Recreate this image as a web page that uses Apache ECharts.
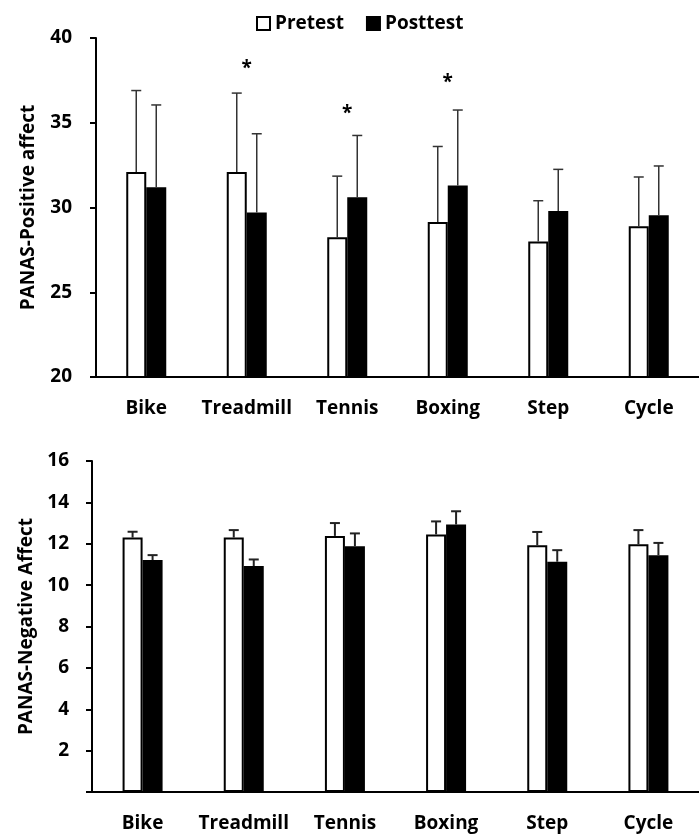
<!DOCTYPE html>
<html>
<head>
<meta charset="utf-8">
<script src="https://cdn.jsdelivr.net/npm/echarts@6/dist/echarts.min.js"></script>
<style>
html,body{margin:0;padding:0;background:#fff;}
#c{width:699px;height:840px;}
</style>
</head>
<body>
<div id="c"></div>
<script>
const categories = ['Bike','Treadmill','Tennis','Boxing','Step','Cycle'];

// PANAS positive affect (top panel)
const posPre = [32.1, 32.1, 28.25, 29.15, 28.0, 28.9];
const posPreSD = [4.8, 4.65, 3.6, 4.45, 2.4, 2.9];
const posPost = [31.2, 29.7, 30.6, 31.3, 29.8, 29.55];
const posPostSD = [4.85, 4.65, 3.65, 4.45, 2.45, 2.9];
const posStars = [null, 38.2, 35.55, 37.35, null, null];

// PANAS negative affect (bottom panel)
const negPre = [12.3, 12.3, 12.38, 12.45, 11.93, 11.98];
const negPreSD = [0.28, 0.36, 0.62, 0.63, 0.64, 0.68];
const negPost = [11.21, 10.92, 11.88, 12.93, 11.13, 11.45];
const negPostSD = [0.24, 0.32, 0.62, 0.64, 0.56, 0.59];

const posTicks = [20, 25, 30, 35, 40];
const negTicks = [0, 2, 4, 6, 8, 10, 12, 14, 16];

const FONT = '"Open Sans", sans-serif';
const BAR_W = 20;

function errData(means, sds){ return means.map((m,i)=>[i,m,sds[i]]); }
function errRender(offset, lw, color){
  return function(params, api){
    const i = api.value(0), m = api.value(1), e = api.value(2);
    const p0 = api.coord([i, m]);
    const p1 = api.coord([i, m + e]);
    const x = p0[0] + offset;
    return {type:'group', children:[
      {type:'line', shape:{x1:x,y1:p0[1],x2:x,y2:p1[1]}, style:{stroke:color,lineWidth:lw}},
      {type:'line', shape:{x1:x-5,y1:p1[1],x2:x+5,y2:p1[1]}, style:{stroke:color,lineWidth:lw}}
    ]};
  };
}

const axisText = {color:'#000', fontFamily:FONT, fontWeight:'bold', fontSize:19};

const chart = echarts.init(document.getElementById('c'));
chart.setOption({
  animation:false,
  backgroundColor:'#fff',
  legend:{
    data:['Pretest','Posttest'],
    left:251, top:9,
    itemWidth:13, itemHeight:13, itemGap:22,
    icon:'rect',
    textStyle:{color:'#000', fontFamily:FONT, fontWeight:'bold', fontSize:19}
  },
  grid:[
    {left:96, top:38, width:615, height:339},
    {left:92, top:461, width:615, height:331}
  ],
  xAxis:[
    {type:'category', gridIndex:0, data:categories,
     axisLine:{lineStyle:{color:'#000',width:2}}, axisTick:{show:false},
     axisLabel:Object.assign({margin:22, interval:0}, axisText)},
    {type:'category', gridIndex:1, data:categories,
     axisLine:{lineStyle:{color:'#000',width:2}}, axisTick:{show:false},
     axisLabel:Object.assign({margin:22, interval:0}, axisText)}
  ],
  yAxis:[
    {type:'value', gridIndex:0, min:posTicks[0], max:posTicks[posTicks.length-1], interval:5,
     name:'PANAS-Positive affect', nameLocation:'middle', nameGap:58,
     nameTextStyle:{color:'#000', fontFamily:FONT, fontWeight:'bold', fontSize:19},
     axisLine:{show:true, lineStyle:{color:'#000',width:2}},
     axisTick:{show:true, length:6, lineStyle:{color:'#000',width:2}},
     splitLine:{show:false},
     axisLabel:Object.assign({margin:24}, axisText)},
    {type:'value', gridIndex:1, min:negTicks[0], max:negTicks[negTicks.length-1], interval:2,
     name:'PANAS-Negative Affect', nameLocation:'middle', nameGap:56,
     nameTextStyle:{color:'#000', fontFamily:FONT, fontWeight:'bold', fontSize:19},
     axisLine:{show:true, lineStyle:{color:'#000',width:2}},
     axisTick:{show:true, length:6, lineStyle:{color:'#000',width:2}},
     splitLine:{show:false},
     axisLabel:Object.assign({margin:23, formatter:v=> v===0 ? '' : String(v)}, axisText)}
  ],
  series:[
    {name:'Pretest', type:'bar', xAxisIndex:0, yAxisIndex:0, data:posPre, barWidth:BAR_W, barGap:'0%',
     itemStyle:{color:'#fff', borderColor:'#000', borderWidth:2}},
    {name:'Posttest', type:'bar', xAxisIndex:0, yAxisIndex:0, data:posPost, barWidth:BAR_W, barGap:'0%',
     itemStyle:{color:'#000', borderColor:'#000', borderWidth:2}},
    {type:'custom', xAxisIndex:0, yAxisIndex:0, data:errData(posPre,posPreSD),
     encode:{x:0,y:1}, renderItem:errRender(-BAR_W/2, 1.5, '#333'), z:3},
    {type:'custom', xAxisIndex:0, yAxisIndex:0, data:errData(posPost,posPostSD),
     encode:{x:0,y:1}, renderItem:errRender(BAR_W/2, 1.5, '#333'), z:3},
    {type:'scatter', xAxisIndex:0, yAxisIndex:0, data:posStars, symbolSize:0,
     itemStyle:{opacity:1},
     label:{show:true, position:'inside', formatter:'*', color:'#000', opacity:1, fontFamily:FONT, fontWeight:'bold', fontSize:19}},
    {name:'Pretest', type:'bar', xAxisIndex:1, yAxisIndex:1, data:negPre, barWidth:BAR_W, barGap:'0%',
     itemStyle:{color:'#fff', borderColor:'#000', borderWidth:2}},
    {name:'Posttest', type:'bar', xAxisIndex:1, yAxisIndex:1, data:negPost, barWidth:BAR_W, barGap:'0%',
     itemStyle:{color:'#000', borderColor:'#000', borderWidth:2}},
    {type:'custom', xAxisIndex:1, yAxisIndex:1, data:errData(negPre,negPreSD),
     encode:{x:0,y:1}, renderItem:errRender(-BAR_W/2, 2, '#222'), z:3},
    {type:'custom', xAxisIndex:1, yAxisIndex:1, data:errData(negPost,negPostSD),
     encode:{x:0,y:1}, renderItem:errRender(BAR_W/2, 2, '#222'), z:3}
  ]
});
</script>
</body>
</html>
